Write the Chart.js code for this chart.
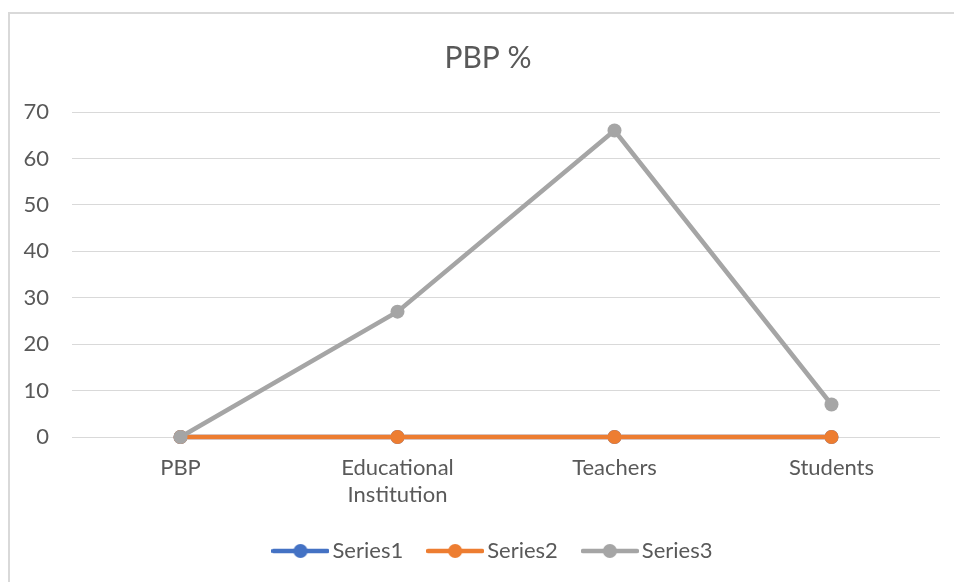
<!DOCTYPE html>
<html>
<head>
<meta charset="utf-8">
<title>PBP %</title>
<script src="https://cdn.jsdelivr.net/npm/chart.js@4.4.1/dist/chart.umd.min.js"></script>
<style>
  html, body { margin: 0; padding: 0; background: #ffffff; }
  #wrap { position: relative; width: 954px; height: 582px; overflow: hidden; }
  #frame {
    position: absolute; left: 8px; top: 12px; width: 1000px; height: 1000px;
    border-left: 2px solid #D9D9D9; border-top: 2px solid #D9D9D9;
  }
  #chart { position: absolute; left: 0; top: 0; }
</style>
</head>
<body>
<div id="wrap">
  <div id="frame"></div>
  <canvas id="chart" width="954" height="582"></canvas>
</div>
<script>
// Chart data
const categories = ['PBP', ['Educational', 'Institution'], 'Teachers', 'Students'];
const series1 = [0, 0, 0, 0];
const series2 = [0, 0, 0, 0];
const series3 = [0, 27, 66, 7];
const yTicks = [0, 10, 20, 30, 40, 50, 60, 70];

const TEXT = '#595959';
const GRID = '#D9D9D9';
const FONT = "Lato, 'Liberation Sans', sans-serif";
const COLORS = ['#4472C4', '#ED7D31', '#A5A5A5'];

// Legend marker: short line with a dot in the middle, like Office charts
function legendMarker(color) {
  const c = document.createElement('canvas');
  c.width = 58;
  c.height = 16;
  const g = c.getContext('2d');
  g.strokeStyle = color;
  g.lineWidth = 4.5;
  g.lineCap = 'round';
  g.beginPath();
  g.moveTo(2, 8);
  g.lineTo(56, 8);
  g.stroke();
  g.fillStyle = color;
  g.beginPath();
  g.arc(29, 8, 7, 0, Math.PI * 2);
  g.fill();
  return c;
}
const markers = COLORS.map(legendMarker);

function makeSeries(label, data, color, order) {
  return {
    label: label,
    data: data,
    borderColor: color,
    backgroundColor: color,
    borderWidth: 4.5,
    pointStyle: 'circle',
    pointRadius: 7,
    pointHoverRadius: 7,
    pointBorderWidth: 0,
    pointBackgroundColor: color,
    tension: 0,
    clip: false,
    order: order
  };
}

// Office centres title and legend on the whole frame, not on the plot,
// so nudge both blocks a little to the right after layout
const shiftBoxes = {
  id: 'shiftBoxes',
  afterUpdate(chart) {
    const t = chart.titleBlock;
    if (t) { t.left += 18; t.right += 18; }
    const l = chart.legend;
    if (l) { l.left += 26; l.right += 26; l.adjustHitBoxes(); }
  }
};

const ctx = document.getElementById('chart');

new Chart(ctx, {
  type: 'line',
  data: {
    labels: categories,
    datasets: [
      makeSeries('Series1', series1, COLORS[0], 3),
      makeSeries('Series2', series2, COLORS[1], 2),
      makeSeries('Series3', series3, COLORS[2], 1)
    ]
  },
  options: {
    responsive: false,
    animation: false,
    layout: {
      padding: { left: 0, right: 14, top: 0, bottom: 10 }
    },
    plugins: {
      title: {
        display: true,
        text: 'PBP %',
        color: TEXT,
        font: { family: FONT, size: 30, weight: 'normal' },
        padding: { top: 40, bottom: 36 }
      },
      legend: {
        display: true,
        position: 'bottom',
        labels: {
          color: TEXT,
          font: { family: FONT, size: 22 },
          usePointStyle: true,
          pointStyleWidth: 42,
          boxHeight: 16,
          padding: 31,
          sort: (a, b) => a.datasetIndex - b.datasetIndex,
          generateLabels: (chart) => {
            const items = Chart.defaults.plugins.legend.labels.generateLabels(chart);
            items.forEach(item => { item.pointStyle = markers[item.datasetIndex]; });
            return items;
          }
        }
      },
      tooltip: { enabled: false }
    },
    scales: {
      x: {
        offset: true,
        grid: { display: false },
        border: { display: false },
        ticks: {
          color: TEXT,
          font: { family: FONT, size: 22 },
          padding: 10,
          maxRotation: 0
        },
        afterFit: (scale) => { scale.height = 72; }
      },
      y: {
        min: 0,
        max: 70,
        afterBuildTicks: (scale) => { scale.ticks = yTicks.map(v => ({ value: v })); },
        grid: { color: GRID, lineWidth: 1, drawTicks: false },
        border: { display: false },
        ticks: {
          color: TEXT,
          font: { family: FONT, size: 22 },
          padding: 23
        },
        afterFit: (scale) => { scale.width = 72; }
      }
    }
  },
  plugins: [shiftBoxes]
});
</script>
</body>
</html>
